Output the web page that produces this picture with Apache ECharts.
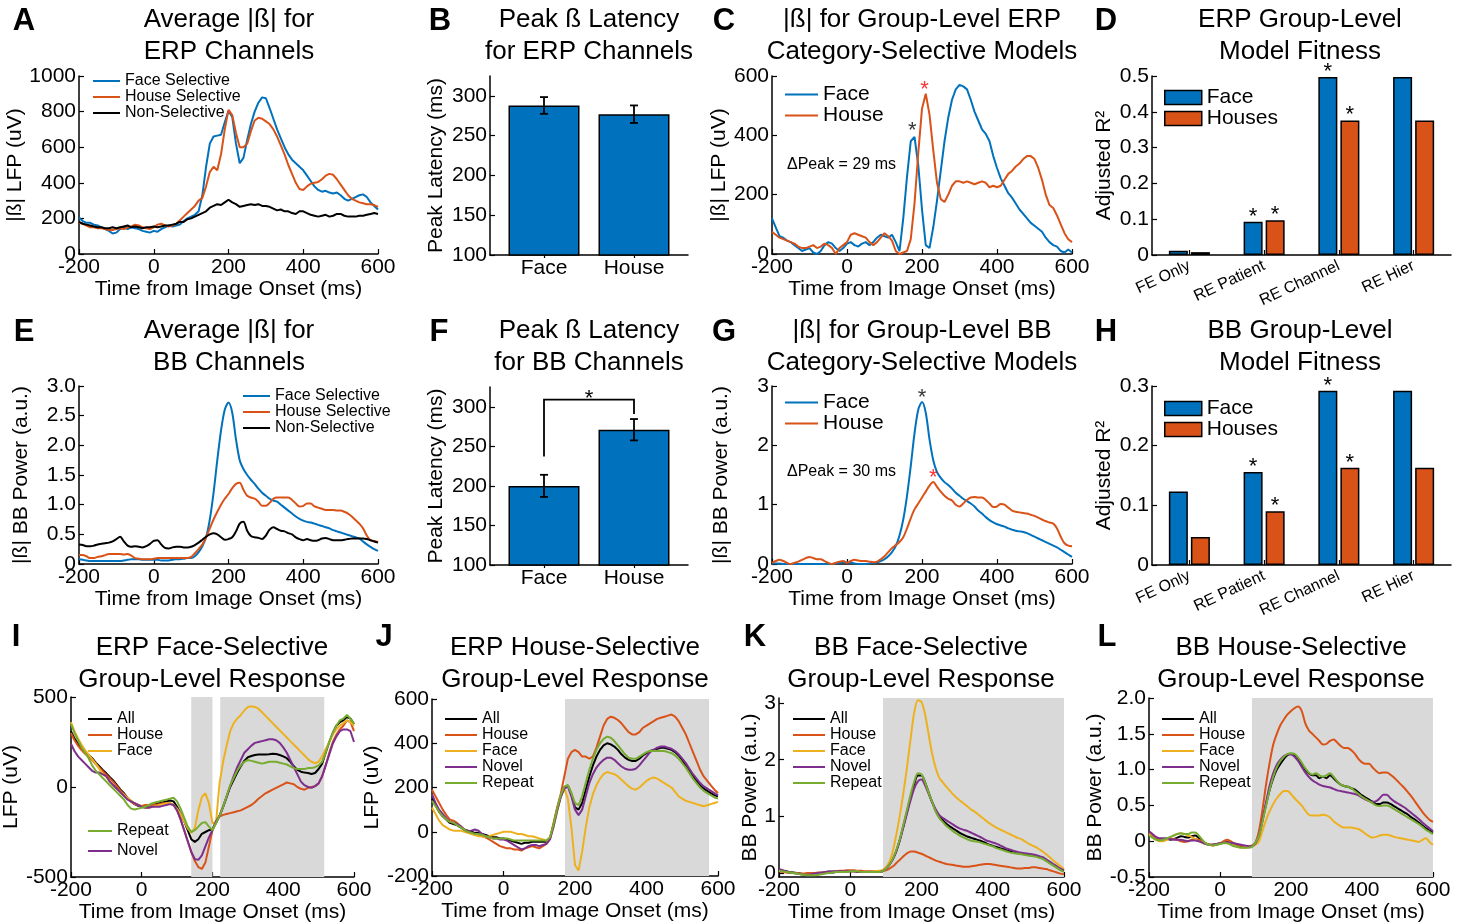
<!DOCTYPE html>
<html>
<head>
<meta charset="utf-8">
<title>Category-selective group-level responses</title>
<script src="https://cdn.jsdelivr.net/npm/echarts@6/dist/echarts.min.js"></script>
<style>
  html, body { margin: 0; padding: 0; background: #fff; }
  #chart { width: 1465px; height: 924px; }
</style>
</head>
<body>
<div id="chart"></div>
<script>
const FONT = 'Liberation Sans, Arial, sans-serif'
const BLUE = '#0072BD', ORANGE = '#D95319', YELLOW = '#EDB120', PURPLE = '#7E2F8E', GREEN = '#77AC30'

// time from image onset (ms), shared by every line panel
const T = [
  -200, -190, -180, -170, -160, -150, -140, -130, -120, -110,
  -100, -90, -80, -70, -60, -50, -40, -30, -20, -10,
  0, 10, 20, 30, 40, 50, 60, 70, 80, 90,
  100, 110, 120, 130, 140, 150, 160, 170, 180, 190,
  200, 210, 220, 230, 240, 250, 260, 270, 280, 290,
  300, 310, 320, 330, 340, 350, 360, 370, 380, 390,
  400, 410, 420, 430, 440, 450, 460, 470, 480, 490,
  500, 510, 520, 530, 540, 550, 560, 570, 580, 590,
  600
]
const timeTicks = [-200, 0, 200, 400, 600]

// A: average |B| for ERP channels
const aFace = [
  205, 185, 175, 175, 165, 160, 150, 140, 130, 115,
  120, 140, 150, 140, 150, 145, 140, 130, 125, 120,
  130, 125, 140, 150, 160, 155, 160, 165, 185, 200,
  210, 220, 240, 330, 490, 620, 660, 665, 670, 740,
  805, 770, 620, 510, 540, 640, 730, 800, 850, 880,
  875, 820, 760, 700, 650, 600, 560, 530, 510, 490,
  470, 440, 410, 380, 360, 350, 355, 345, 340, 345,
  330, 310, 300, 310, 320, 330, 335, 320, 290, 270,
  250
]
const aHouse = [
  175, 170, 160, 150, 150, 145, 145, 140, 135, 135,
  140, 145, 140, 150, 155, 165, 160, 150, 145, 140,
  150, 165, 170, 160, 155, 160, 170, 190, 210, 230,
  250, 270, 300, 315, 380, 460, 490, 470, 560, 700,
  810, 780, 680, 600, 600, 620, 690, 750, 765, 760,
  745, 730, 700, 660, 610, 560, 500, 450, 400, 365,
  360, 380, 395, 400, 405, 420, 440, 450, 445, 420,
  390, 360, 330, 310, 300, 290, 285, 280, 280, 275,
  265
]
const aNon = [
  180, 170, 165, 160, 155, 150, 150, 145, 145, 150,
  145, 150, 155, 160, 150, 155, 150, 145, 150, 150,
  155, 150, 155, 160, 160, 165, 170, 180, 180, 195,
  200, 210, 220, 230, 240, 260, 270, 280, 275, 290,
  305, 290, 280, 265, 270, 275, 280, 275, 280, 270,
  270, 265, 255, 245, 250, 240, 240, 230, 225, 240,
  240, 230, 220, 215, 210, 215, 220, 210, 215, 225,
  225, 215, 210, 210, 210, 215, 215, 220, 225, 230,
  225
]
const aTicks = [0, 200, 400, 600, 800, 1000]

// B / F: peak latency bars
const latCats = ['Face', 'House']
const latX = [1, 2]
const latTicks = [100, 150, 200, 250, 300]
const bVals = [288, 277]
const bErr = [10.5, 11]
const fVals = [200, 271]
const fErr = [14, 13.5]
const fBracket = [1, 2, 237, 309, 291]

// C: group-level ERP models
const cFace = [
  120, 90, 60, 55, 45, 40, 30, 20, 10, 15,
  20, 5, 0, 10, 30, 40, 35, 20, 10, 20,
  35, 40, 30, 25, 35, 40, 30, 40, 55, 65,
  60, 55, 65, 40, 10, 120, 260, 380, 395, 300,
  150, 30, 20, 90, 180, 280, 380, 460, 520, 555,
  570, 565, 555, 520, 480, 450, 420, 405, 380, 330,
  290, 255, 230, 205, 190, 170, 150, 135, 120, 105,
  95, 85, 75, 55, 40, 30, 25, 10, 5, 15,
  5
]
const cHouse = [
  75, 65, 55, 50, 45, 40, 35, 25, 20, 20,
  25, 30, 20, 25, 35, 30, 20, 0, 20, 30,
  40, 65, 70, 65, 60, 55, 40, 30, 40, 55,
  70, 60, 45, 10, 0, 5, 10, 50, 170, 340,
  490, 540, 470, 350, 240, 185, 175, 200, 230, 245,
  245, 240, 245, 240, 235, 240, 245, 240, 225, 230,
  225, 230, 250, 270, 280, 295, 305, 320, 330, 330,
  320, 290, 250, 200, 165, 155, 130, 100, 70, 50,
  40
]
const cTicks = [0, 200, 400, 600]
const cFacePeak = [174, 400]
const cHousePeak = [207, 541]

// D / H: model fitness
const fitCats = ['FE Only', 'RE Patient', 'RE Channel', 'RE Hier']
const dFace = [0.012, 0.093, 0.497, 0.497]
const dHouse = [0.008, 0.097, 0.376, 0.376]
const dTicks = [0, 0.1, 0.2, 0.3, 0.4, 0.5]
const hFace = [0.123, 0.156, 0.292, 0.292]
const hHouse = [0.047, 0.09, 0.163, 0.163]
const hTicks = [0, 0.1, 0.2, 0.3]
const fitStarFace = [0, 1, 1, 0]
const fitStarHouse = [0, 1, 1, 0]

// E: average |B| for BB channels
const eFace = [
  0.08, 0.07, 0.06, 0.05, 0.05, 0.05, 0.05, 0.05, 0.05, 0.05,
  0.05, 0.05, 0.06, 0.07, 0.08, 0.08, 0.08, 0.07, 0.07, 0.07,
  0.07, 0.07, 0.06, 0.06, 0.06, 0.07, 0.08, 0.08, 0.09, 0.1,
  0.1, 0.13, 0.2, 0.3, 0.45, 0.75, 1.2, 1.75, 2.25, 2.6,
  2.72, 2.55, 2.1, 1.75, 1.6, 1.5, 1.42, 1.35, 1.27, 1.2,
  1.15, 1.1, 1.07, 1.05, 1.0, 0.95, 0.9, 0.85, 0.8, 0.76,
  0.73, 0.71, 0.7, 0.68, 0.66, 0.64, 0.62, 0.6, 0.57, 0.55,
  0.53, 0.51, 0.49, 0.47, 0.45, 0.43, 0.38, 0.33, 0.29, 0.25,
  0.22
]
const eHouse = [
  0.15, 0.15, 0.13, 0.1, 0.1, 0.12, 0.13, 0.15, 0.17, 0.17,
  0.17, 0.17, 0.16, 0.17, 0.14, 0.1, 0.09, 0.08, 0.08, 0.08,
  0.09, 0.1, 0.1, 0.1, 0.1, 0.1, 0.1, 0.1, 0.1, 0.1,
  0.12, 0.18, 0.25, 0.33, 0.45, 0.6, 0.75, 0.88, 1.0, 1.1,
  1.18, 1.28, 1.35, 1.37, 1.25, 1.15, 1.12, 1.1, 1.05, 0.98,
  0.98, 1.03, 1.1, 1.12, 1.12, 1.12, 1.12, 1.08, 1.02, 0.97,
  0.98, 1.02, 1.02, 0.97, 0.95, 0.93, 0.91, 0.91, 0.91, 0.9,
  0.9, 0.88, 0.85, 0.8, 0.74, 0.68, 0.6, 0.48, 0.4, 0.39,
  0.37
]
const eNon = [
  0.33, 0.32, 0.3, 0.3, 0.31, 0.33, 0.34, 0.35, 0.36, 0.38,
  0.42, 0.46, 0.38, 0.31, 0.29, 0.3, 0.29, 0.28, 0.3, 0.34,
  0.39, 0.4, 0.33, 0.27, 0.26, 0.28, 0.29, 0.29, 0.28, 0.28,
  0.29, 0.32, 0.36, 0.41, 0.46, 0.5, 0.52, 0.5, 0.45, 0.41,
  0.42, 0.45, 0.55, 0.68, 0.71, 0.56, 0.47, 0.45, 0.44, 0.42,
  0.48, 0.58, 0.62, 0.59, 0.56, 0.55, 0.52, 0.5, 0.45, 0.42,
  0.4, 0.42, 0.4, 0.39, 0.4, 0.43, 0.44, 0.42, 0.4, 0.4,
  0.4, 0.41, 0.42, 0.43, 0.43, 0.43, 0.43, 0.42, 0.4, 0.38,
  0.36
]
const eTicks = [0, 0.5, 1, 1.5, 2, 2.5, 3]

// G: group-level BB models
const gFace = [
  0.01, 0.01, 0.01, 0, 0, 0, 0, 0, 0, 0,
  0, 0, 0, 0, 0, 0, 0, 0.01, 0.02, 0.03,
  0.03, 0.02, 0.01, 0, 0, 0, 0.01, 0.02, 0.03, 0.05,
  0.08, 0.13, 0.2, 0.3, 0.48, 0.75, 1.15, 1.65, 2.2, 2.6,
  2.73, 2.55, 2.1, 1.75, 1.55, 1.45, 1.38, 1.33, 1.27, 1.2,
  1.15, 1.1, 1.06, 1.02, 0.97, 0.9, 0.85, 0.79, 0.74, 0.7,
  0.67, 0.65, 0.63, 0.6, 0.58, 0.56, 0.55, 0.54, 0.52, 0.49,
  0.46, 0.43, 0.4, 0.37, 0.34, 0.31, 0.28, 0.24, 0.2, 0.16,
  0.12
]
const gHouse = [
  0.02, 0.05, 0.07, 0.05, 0.02, 0, 0.02, 0.04, 0.07, 0.1,
  0.12, 0.1, 0.08, 0.08, 0.05, 0.02, 0, 0.02, 0.04, 0.05,
  0.02, 0.05, 0.07, 0.06, 0.05, 0.05, 0.04, 0.03, 0.04, 0.08,
  0.13, 0.2, 0.27, 0.32, 0.37, 0.45, 0.6, 0.77, 0.92, 1.02,
  1.12, 1.22, 1.32, 1.38, 1.3, 1.22, 1.15, 1.1, 1.07, 1.0,
  0.97, 1.02, 1.08, 1.12, 1.13, 1.12, 1.12, 1.08, 1.02, 0.96,
  0.97, 1.01, 1.0, 0.95, 0.9, 0.88, 0.87, 0.86, 0.85, 0.83,
  0.81, 0.78, 0.75, 0.72, 0.7, 0.68, 0.6, 0.46, 0.35, 0.31,
  0.3
]
const gTicks = [0, 1, 2, 3]
const gFacePeak = [200, 2.73]
const gHousePeak = [230, 1.38]

// I: ERP face-selective group response
const iAll = [
  310, 270, 240, 215, 195, 178, 160, 135, 115, 95,
  76, 55, 35, 10, -15, -35, -60, -80, -95, -105,
  -110, -110, -105, -100, -95, -90, -85, -80, -75, -80,
  -110, -150, -190, -240, -290, -305, -290, -260, -250, -240,
  -235, -200, -160, -110, -55, 0, 40, 80, 115, 145,
  165, 172, 178, 180, 180, 180, 182, 185, 183, 178,
  170, 160, 140, 115, 95, 85, 80, 78, 72, 78,
  100, 130, 190, 250, 300, 340, 360, 370, 390, 380,
  350
]
const iHouse = [
  300, 260, 230, 205, 185, 168, 150, 128, 108, 88,
  68, 48, 28, 5, -20, -40, -62, -82, -95, -100,
  -105, -100, -100, -100, -100, -95, -90, -90, -90, -100,
  -130, -180, -240, -300, -360, -410, -445, -455, -420, -330,
  -240, -190, -165, -155, -150, -145, -140, -135, -130, -120,
  -110, -100, -85, -65, -50, -35, -25, -15, -5, 5,
  15, 25, 20, 15, 0, -10, -15, -5, 0, 5,
  20, 60, 120, 190, 250, 290, 320, 340, 370, 360,
  310
]
const iFace = [
  360, 310, 270, 235, 205, 180, 155, 130, 100, 75,
  55, 30, 10, -10, -30, -45, -60, -75, -90, -100,
  -110, -115, -115, -110, -105, -100, -95, -90, -90, -100,
  -120, -150, -190, -230, -255, -230, -130, -55, -35, -90,
  -200, -200, 20, 140, 230, 310, 355, 380, 400, 425,
  445, 448, 445, 435, 415, 395, 375, 355, 335, 315,
  295, 275, 255, 235, 215, 195, 175, 155, 140, 132,
  140, 170, 210, 250, 290, 320, 340, 355, 370, 360,
  340
]
const iNovel = [
  240, 200, 170, 150, 130, 110, 90, 80, 80, 70,
  60, 30, 10, -10, -30, -50, -70, -80, -90, -100,
  -110, -115, -115, -110, -110, -110, -105, -100, -95, -100,
  -130, -180, -240, -300, -360, -400, -405, -380, -330, -280,
  -240, -190, -160, -110, -55, 5, 60, 110, 150, 190,
  210, 230, 245, 250, 255, 260, 265, 265, 260, 245,
  220, 190, 150, 110, 70, 30, 10, 0, -5, 5,
  20, 60, 120, 180, 240, 280, 310, 320, 320, 310,
  250
]
const iRepeat = [
  350, 300, 260, 220, 190, 160, 120, 90, 70, 50,
  30, 10, -10, -30, -50, -70, -100, -120, -125, -120,
  -115, -110, -100, -90, -85, -80, -75, -70, -65, -60,
  -80, -120, -170, -220, -250, -240, -220, -200, -195, -220,
  -240, -200, -160, -110, -50, 10, 50, 90, 120, 140,
  150, 145, 140, 135, 130, 135, 140, 140, 140, 135,
  130, 125, 115, 105, 100, 100, 100, 105, 105, 110,
  120, 140, 190, 250, 300, 340, 370, 380, 400, 380,
  350
]
const iShade = [[140, 200], [222, 516]]
const iTicks = [-500, 0, 500]

// J: ERP house-selective group response
const jAll = [
  150, 120, 90, 70, 55, 40, 35, 30, 20, 10,
  5, 0, -5, -5, -10, -15, -20, -25, -25, -30,
  -30, -35, -40, -45, -50, -55, -50, -50, -45, -45,
  -45, -45, -45, -30, 30, 100, 160, 200, 210, 170,
  110, 100, 130, 190, 250, 300, 340, 370, 390, 400,
  395, 385, 370, 350, 335, 325, 320, 320, 330, 345,
  355, 365, 370, 375, 380, 380, 375, 370, 360, 345,
  325, 300, 275, 250, 230, 210, 195, 185, 175, 165,
  160
]
const jHouse = [
  190, 160, 130, 100, 75, 55, 50, 40, 25, 10,
  0, -5, -10, -15, -20, -25, -35, -45, -55, -65,
  -70, -75, -75, -80, -80, -85, -75, -70, -65, -70,
  -75, -65, -55, -30, 40, 110, 170, 250, 330, 360,
  370, 360, 340, 340, 330, 340, 380, 430, 480, 510,
  520, 515, 505, 490, 470, 450, 440, 440, 450, 470,
  480, 490, 500, 510, 515, 520, 525, 530, 520, 500,
  470, 440, 400, 360, 320, 280, 250, 230, 210, 190,
  175
]
const jFace = [
  110, 80, 50, 30, 20, 10, 5, 5, 5, 0,
  -5, -10, -15, -20, -20, -25, -20, -15, -10, -5,
  0, 0, 0, -5, -10, -10, -15, -20, -20, -25,
  -30, -35, -40, -30, 20, 90, 160, 195, 150, 20,
  -150, -175, -90, 20, 110, 170, 210, 240, 260, 270,
  265, 260, 250, 235, 220, 205, 195, 190, 200, 215,
  230, 240, 245, 240, 230, 220, 210, 200, 180, 160,
  150, 140, 135, 130, 125, 120, 115, 120, 125, 130,
  135
]
const jNovel = [
  170, 130, 100, 80, 60, 45, 40, 35, 25, 10,
  0, 5, 10, 5, -10, -20, -25, -30, -30, -35,
  -35, -40, -50, -60, -70, -80, -75, -65, -60, -60,
  -65, -60, -55, -35, 25, 95, 155, 195, 205, 160,
  100, 75, 100, 160, 220, 260, 290, 310, 325, 335,
  335, 325, 310, 295, 285, 280, 280, 285, 300, 320,
  340, 360, 370, 380, 385, 385, 380, 375, 365, 350,
  330, 310, 285, 260, 240, 220, 205, 195, 185, 175,
  165
]
const jRepeat = [
  140, 115, 90, 70, 55, 45, 40, 30, 20, 10,
  0, -5, -10, -10, -15, -20, -25, -30, -30, -30,
  -30, -30, -35, -40, -40, -40, -40, -40, -40, -40,
  -40, -40, -40, -25, 35, 105, 165, 205, 210, 175,
  130, 120, 160, 220, 280, 330, 370, 400, 420, 430,
  425, 410, 390, 370, 350, 335, 330, 330, 340, 350,
  360, 365, 365, 365, 365, 365, 360, 355, 345, 330,
  310, 290, 265, 240, 220, 200, 185, 175, 165, 155,
  150
]
const jShade = [[172, 575]]
const jTicks = [-200, 0, 200, 400, 600]

// K: BB face-selective group response
const kAll = [
  0.05, 0.04, 0.03, 0.02, 0.01, 0, -0.01, -0.02, -0.03, -0.03,
  -0.03, -0.02, -0.01, 0, 0.01, 0.01, 0.02, 0.02, 0.02, 0.03,
  0.03, 0.03, 0.02, 0.02, 0.02, 0.02, 0.02, 0.02, 0.02, 0.03,
  0.08, 0.15, 0.25, 0.4, 0.6, 0.85, 1.1, 1.35, 1.58, 1.72,
  1.72, 1.6, 1.42, 1.25, 1.1, 1.0, 0.93, 0.87, 0.82, 0.78,
  0.74, 0.7, 0.67, 0.64, 0.62, 0.6, 0.58, 0.56, 0.53, 0.5,
  0.48, 0.46, 0.44, 0.42, 0.4, 0.38, 0.36, 0.35, 0.34, 0.33,
  0.32, 0.31, 0.3, 0.28, 0.26, 0.22, 0.18, 0.14, 0.1, 0.06,
  0.03
]
const kHouse = [
  0.03, 0.02, 0.01, 0, 0, 0, -0.01, -0.01, 0, 0,
  0, 0.01, 0.01, 0.02, 0.02, 0.02, 0.03, 0.04, 0.04, 0.05,
  0.05, 0.05, 0.04, 0.04, 0.03, 0.03, 0.03, 0.03, 0.03, 0.04,
  0.05, 0.08, 0.12, 0.18, 0.24, 0.3, 0.35, 0.38, 0.38, 0.36,
  0.34, 0.31, 0.28, 0.25, 0.22, 0.2, 0.18, 0.16, 0.15, 0.14,
  0.13, 0.12, 0.11, 0.11, 0.12, 0.13, 0.14, 0.15, 0.16, 0.16,
  0.15, 0.14, 0.13, 0.12, 0.11, 0.1, 0.09, 0.08, 0.08, 0.09,
  0.09, 0.1, 0.1, 0.09, 0.08, 0.07, 0.05, 0.03, 0.01, -0.01,
  -0.02
]
const kFace = [
  0.04, 0.03, 0.02, 0.01, 0, -0.01, -0.02, -0.03, -0.03, -0.03,
  -0.02, -0.01, 0, 0.01, 0.01, 0.02, 0.02, 0.02, 0.03, 0.03,
  0.03, 0.03, 0.03, 0.02, 0.02, 0.02, 0.02, 0.03, 0.04, 0.05,
  0.1, 0.2, 0.4, 0.7, 1.05, 1.45, 1.9, 2.4, 2.85, 3.05,
  3.02, 2.8, 2.45, 2.1, 1.85, 1.68, 1.6, 1.52, 1.45, 1.38,
  1.32, 1.27, 1.22, 1.17, 1.12, 1.08, 1.03, 0.98, 0.93, 0.88,
  0.84, 0.8, 0.77, 0.74, 0.71, 0.68, 0.65, 0.62, 0.6, 0.56,
  0.52, 0.49, 0.46, 0.42, 0.38, 0.33, 0.28, 0.22, 0.17, 0.12,
  0.07
]
const kNovel = [
  0.07, 0.05, 0.03, 0.01, 0, -0.01, -0.02, -0.03, -0.03, -0.02,
  -0.01, 0, 0.01, 0.02, 0.03, 0.03, 0.03, 0.03, 0.03, 0.03,
  0.03, 0.03, 0.02, 0.02, 0.02, 0.02, 0.02, 0.02, 0.02, 0.03,
  0.08, 0.15, 0.25, 0.4, 0.6, 0.83, 1.07, 1.3, 1.5, 1.62,
  1.65, 1.55, 1.4, 1.25, 1.12, 1.02, 0.97, 0.93, 0.89, 0.85,
  0.81, 0.78, 0.76, 0.74, 0.71, 0.68, 0.65, 0.62, 0.58, 0.56,
  0.54, 0.52, 0.49, 0.46, 0.43, 0.41, 0.39, 0.37, 0.36, 0.35,
  0.34, 0.33, 0.32, 0.3, 0.28, 0.24, 0.2, 0.16, 0.12, 0.08,
  0.05
]
const kRepeat = [
  0.04, 0.03, 0.02, 0.01, 0, -0.01, -0.02, -0.03, -0.04, -0.04,
  -0.04, -0.03, -0.02, -0.01, 0, 0.01, 0.02, 0.02, 0.02, 0.02,
  0.03, 0.03, 0.03, 0.02, 0.02, 0.02, 0.02, 0.02, 0.02, 0.03,
  0.08, 0.15, 0.26, 0.42, 0.62, 0.88, 1.14, 1.4, 1.62, 1.76,
  1.74, 1.6, 1.42, 1.25, 1.08, 0.97, 0.9, 0.83, 0.78, 0.73,
  0.69, 0.65, 0.62, 0.59, 0.57, 0.56, 0.55, 0.53, 0.51, 0.49,
  0.47, 0.44, 0.42, 0.4, 0.38, 0.36, 0.35, 0.34, 0.33, 0.32,
  0.31, 0.3, 0.29, 0.27, 0.25, 0.21, 0.17, 0.13, 0.09, 0.05,
  0.02
]
const kShade = [[92, 600]]
const kTicks = [0, 1, 2, 3]

// L: BB house-selective group response
const lAll = [
  0.1, 0.06, 0.03, 0.02, 0.03, 0.03, 0.02, 0.03, 0.05, 0.07,
  0.06, 0.05, 0.07, 0.08, 0.05, 0, -0.03, -0.05, -0.05, -0.04,
  -0.03, -0.02, -0.01, -0.03, -0.05, -0.06, -0.07, -0.08, -0.08, -0.07,
  -0.02, 0.1, 0.3, 0.52, 0.72, 0.88, 1.0, 1.08, 1.15, 1.2,
  1.22, 1.2, 1.15, 1.08, 1.0, 0.95, 0.92, 0.92, 0.88, 0.9,
  0.88, 0.92, 0.88, 0.83, 0.79, 0.77, 0.76, 0.74, 0.72, 0.68,
  0.64, 0.61, 0.58, 0.55, 0.52, 0.52, 0.54, 0.54, 0.52, 0.49,
  0.46, 0.43, 0.4, 0.37, 0.33, 0.3, 0.26, 0.22, 0.18, 0.15,
  0.12
]
const lHouse = [
  0.12, 0.08, 0.04, 0.02, 0.02, 0.03, 0.03, 0.03, 0.02, 0,
  -0.01, 0, 0.02, 0.03, 0.02, 0, -0.03, -0.05, -0.06, -0.05,
  -0.03, 0, 0.02, 0, -0.03, -0.05, -0.06, -0.07, -0.07, -0.06,
  -0.02, 0.15, 0.45, 0.8, 1.1, 1.35, 1.5, 1.62, 1.7, 1.77,
  1.82, 1.86, 1.88, 1.82, 1.65, 1.55, 1.5, 1.45, 1.4, 1.35,
  1.36, 1.4, 1.42, 1.38, 1.33, 1.3, 1.3, 1.27, 1.22, 1.15,
  1.1, 1.08, 1.08, 1.03, 0.98, 0.95, 0.96, 0.96, 0.93, 0.89,
  0.84, 0.79, 0.74, 0.68, 0.62, 0.55, 0.48, 0.41, 0.35, 0.3,
  0.27
]
const lFace = [
  0.1, 0.05, 0.02, 0, 0, 0.02, 0.05, 0.08, 0.1, 0.11,
  0.1, 0.08, 0.06, 0.03, 0, -0.02, -0.04, -0.05, -0.05, -0.04,
  -0.03, -0.02, -0.02, -0.04, -0.06, -0.08, -0.09, -0.09, -0.08, -0.07,
  -0.05, 0, 0.15, 0.3, 0.42, 0.52, 0.6, 0.66, 0.7, 0.7,
  0.66, 0.6, 0.55, 0.5, 0.43, 0.37, 0.36, 0.36, 0.36, 0.37,
  0.36, 0.33, 0.28, 0.24, 0.21, 0.19, 0.19, 0.19, 0.18, 0.17,
  0.14, 0.1, 0.07, 0.05, 0.06, 0.08, 0.09, 0.09, 0.08, 0.06,
  0.05, 0.04, 0.03, 0.02, 0.01, 0, -0.01, 0.02, 0.04, -0.01,
  -0.05
]
const lNovel = [
  0.14, 0.1, 0.06, 0.04, 0.04, 0.04, 0.03, 0.02, 0.02, 0.02,
  0.01, 0, 0.01, 0.01, 0, -0.02, -0.04, -0.05, -0.05, -0.04,
  -0.03, -0.02, -0.02, -0.02, -0.03, -0.04, -0.05, -0.06, -0.07, -0.07,
  -0.03, 0.08, 0.3, 0.55, 0.78, 0.95, 1.07, 1.14, 1.19, 1.21,
  1.21, 1.18, 1.12, 1.04, 0.96, 0.9, 0.85, 0.82, 0.79, 0.77,
  0.76, 0.75, 0.73, 0.71, 0.7, 0.69, 0.68, 0.67, 0.66, 0.64,
  0.61, 0.58, 0.56, 0.55, 0.56, 0.6, 0.65, 0.65, 0.6, 0.56,
  0.53, 0.5, 0.47, 0.43, 0.39, 0.35, 0.31, 0.26, 0.22, 0.18,
  0.14
]
const lRepeat = [
  0.08, 0.05, 0.02, 0.01, 0.02, 0.04, 0.06, 0.08, 0.1, 0.11,
  0.1, 0.1, 0.12, 0.12, 0.08, 0.02, -0.03, -0.05, -0.06, -0.05,
  -0.04, -0.03, -0.03, -0.05, -0.07, -0.08, -0.09, -0.09, -0.09, -0.08,
  -0.02, 0.08, 0.28, 0.5, 0.72, 0.9, 1.03, 1.12, 1.18, 1.22,
  1.23, 1.22, 1.17, 1.1, 1.02, 0.96, 0.93, 0.95, 0.92, 0.9,
  0.92, 0.95, 0.9, 0.84, 0.79, 0.77, 0.76, 0.74, 0.7, 0.66,
  0.62, 0.59, 0.56, 0.53, 0.5, 0.49, 0.5, 0.5, 0.48, 0.45,
  0.42, 0.39, 0.36, 0.33, 0.3, 0.27, 0.24, 0.2, 0.16, 0.13,
  0.1
]
const lShade = [[90, 600]]
const lTicks = [-0.5, 0, 0.5, 1, 1.5, 2]

const plainNumber = v => String(v)
const oneDecimal = v => (v === 0 ? '0' : v.toFixed(1))

// ---------- axes ----------

function baseAxis(gi) {
  return {
    gridIndex: gi,
    axisLine: { show: true, onZero: false, lineStyle: { color: '#000', width: 1.5 } },
    axisTick: { show: true, inside: true, length: 5, lineStyle: { color: '#000', width: 1.2 } },
    axisLabel: { color: '#000', fontSize: 21, fontFamily: FONT, margin: 3, formatter: plainNumber },
    splitLine: { show: false },
    nameLocation: 'middle',
    nameTextStyle: { color: '#000', fontSize: 21, fontFamily: FONT }
  }
}

function timeAxis(gi, gap) {
  let ax = baseAxis(gi)
  ax.type = 'value'
  ax.min = -200
  ax.max = 600
  ax.name = 'Time from Image Onset (ms)'
  ax.nameGap = gap
  ax.axisLabel.customValues = timeTicks
  ax.axisTick.customValues = timeTicks
  return ax
}

function valueAxis(gi, name, gap, min, max, ticks, fmt) {
  let ax = baseAxis(gi)
  ax.type = 'value'
  ax.min = min
  ax.max = max
  ax.name = name
  ax.nameGap = gap
  ax.axisLabel.customValues = ticks
  ax.axisTick.customValues = ticks
  if (fmt) ax.axisLabel.formatter = fmt
  return ax
}

function latencyXAxis(gi) {
  let ax = baseAxis(gi)
  ax.type = 'value'
  ax.min = 0.4
  ax.max = 2.6
  ax.axisLabel.customValues = latX
  ax.axisTick.customValues = latX
  ax.axisTick.inside = false
  ax.axisTick.length = 3
  ax.axisLabel.formatter = v => latCats[latX.indexOf(v)]
  return ax
}

function fitXAxis(gi) {
  let ax = baseAxis(gi)
  ax.type = 'category'
  ax.data = fitCats
  ax.axisTick.alignWithLabel = true
  ax.axisLabel.formatter = null
  ax.axisLabel.fontSize = 16
  ax.axisLabel.rotate = 25
  ax.axisLabel.interval = 0
  ax.axisLabel.margin = 10
  return ax
}

// ---------- series ----------

function line(gi, name, vals, color, smooth) {
  return {
    type: 'line', name, xAxisIndex: gi, yAxisIndex: gi,
    data: T.map((t, i) => [t, vals[i]]),
    symbol: 'none', smooth: smooth ? 0.3 : false,
    lineStyle: { color, width: 2 }, itemStyle: { color },
    z: 3, silent: true
  }
}

function star(gi, pt, color) {
  return {
    type: 'scatter', xAxisIndex: gi, yAxisIndex: gi, data: [pt],
    symbolSize: 0.1, itemStyle: { color: 'rgba(0,0,0,0)' }, z: 5, silent: true,
    label: { show: true, position: 'top', distance: -7, formatter: '*', color, fontSize: 22, fontFamily: FONT }
  }
}

function shade(gi, spans) {
  return {
    type: 'custom', xAxisIndex: gi, yAxisIndex: gi, data: spans,
    encode: { x: [0, 1] }, z: 1, silent: true,
    renderItem: (params, api) => {
      let cs = params.coordSys
      let a = api.coord([api.value(0), 0])
      let b = api.coord([api.value(1), 0])
      return { type: 'rect', shape: { x: a[0], y: cs.y, width: b[0] - a[0], height: cs.height }, style: { fill: '#d9d9d9' } }
    }
  }
}

function latencyBars(gi, vals) {
  return {
    type: 'bar', xAxisIndex: gi, yAxisIndex: gi,
    data: latX.map((x, i) => [x, vals[i]]),
    barWidth: 71, itemStyle: { color: BLUE, borderColor: '#000', borderWidth: 1.5 },
    z: 2, silent: true
  }
}

function errBars(gi, vals, errs) {
  return {
    type: 'custom', xAxisIndex: gi, yAxisIndex: gi, z: 4, silent: true,
    data: latX.map((x, i) => [x, vals[i] - errs[i], vals[i] + errs[i]]),
    encode: { x: 0, y: [1, 2] },
    renderItem: (params, api) => {
      let lo = api.coord([api.value(0), api.value(1)])
      let hi = api.coord([api.value(0), api.value(2)])
      let w = 4
      let st = { stroke: '#000', lineWidth: 1.8 }
      return {
        type: 'group', children: [
          { type: 'line', shape: { x1: lo[0], y1: lo[1], x2: hi[0], y2: hi[1] }, style: st },
          { type: 'line', shape: { x1: lo[0] - w, y1: lo[1], x2: lo[0] + w, y2: lo[1] }, style: st },
          { type: 'line', shape: { x1: hi[0] - w, y1: hi[1], x2: hi[0] + w, y2: hi[1] }, style: st }
        ]
      }
    }
  }
}

function bracket(gi, b) {
  return {
    type: 'custom', xAxisIndex: gi, yAxisIndex: gi, z: 4, silent: true,
    data: [b], encode: { x: [0, 1], y: [2, 3, 4] },
    renderItem: (params, api) => {
      let p0 = api.coord([api.value(0), api.value(2)])
      let p1 = api.coord([api.value(0), api.value(3)])
      let p2 = api.coord([api.value(1), api.value(3)])
      let p3 = api.coord([api.value(1), api.value(4)])
      return {
        type: 'group', children: [
          { type: 'polyline', shape: { points: [p0, p1, p2, p3] }, style: { stroke: '#000', lineWidth: 1.8, fill: null } },
          { type: 'text', x: (p1[0] + p2[0]) / 2, y: p1[1] - 1,
            style: { text: '*', fill: '#000', fontSize: 22, fontFamily: FONT, align: 'center', verticalAlign: 'middle' } }
        ]
      }
    }
  }
}

function fitBars(gi, name, vals, stars, color) {
  return {
    type: 'bar', name, xAxisIndex: gi, yAxisIndex: gi, data: vals,
    barWidth: 19, barGap: '16%',
    itemStyle: { color, borderColor: '#000', borderWidth: 1.5 },
    label: {
      show: true, position: 'top', distance: -6, color: '#000', fontSize: 22, fontFamily: FONT,
      formatter: p => (stars[p.dataIndex] ? '*' : '')
    },
    z: 2, silent: true
  }
}

// line legends use a 2px bar as the icon so no marker shows in the middle
function legend(names, left, top, size, rowH, iconW, extra) {
  return Object.assign({
    data: names, left, top, orient: 'vertical', padding: 0, itemGap: 0,
    icon: 'rect', itemWidth: iconW, itemHeight: 2, selectedMode: false,
    formatter: n => n.split(':')[1],
    textStyle: { color: '#000', fontFamily: FONT, fontSize: size, lineHeight: rowH }
  }, extra || {})
}

const fiveNames = p => ['All', 'House', 'Face', 'Novel', 'Repeat'].map(n => p + ':' + n)
function fiveLines(gi, p, arrs, smooth) {
  const cols = ['#000', ORANGE, YELLOW, PURPLE, GREEN]
  return fiveNames(p).map((n, i) => line(gi, n, arrs[i], cols[i], smooth))
}

// ---------- layout ----------

const grids = [
  { left: 79, top: 76, width: 299, height: 178 },    // A
  { left: 490, top: 76, width: 198, height: 179 },   // B
  { left: 772, top: 76, width: 300, height: 178 },   // C
  { left: 1152, top: 76, width: 299, height: 179 },  // D
  { left: 79, top: 386, width: 299, height: 178 },   // E
  { left: 490, top: 387, width: 198, height: 178 },  // F
  { left: 772, top: 386, width: 300, height: 178 },  // G
  { left: 1152, top: 386, width: 299, height: 179 }, // H
  { left: 70, top: 697, width: 284, height: 180 },   // I
  { left: 432, top: 699, width: 286, height: 177 },  // J
  { left: 779, top: 698, width: 285, height: 179 },  // K
  { left: 1149, top: 698, width: 284, height: 179 }  // L
]

const xAxis = [
  timeAxis(0, 17), latencyXAxis(1), timeAxis(2, 17), fitXAxis(3),
  timeAxis(4, 19), latencyXAxis(5), timeAxis(6, 19), fitXAxis(7),
  timeAxis(8, 22), timeAxis(9, 22), timeAxis(10, 22), timeAxis(11, 22)
]

const yAxis = [
  valueAxis(0, '|ß| LFP (uV)', 47, 0, 1000, aTicks),
  valueAxis(1, 'Peak Latency (ms)', 43, 100, 325, latTicks),
  valueAxis(2, '|ß| LFP (uV)', 40, 0, 600, cTicks),
  valueAxis(3, 'Adjusted R²', 37, 0, 0.5, dTicks),
  valueAxis(4, '|ß| BB Power (a.u.)', 47, 0, 3, eTicks, oneDecimal),
  valueAxis(5, 'Peak Latency (ms)', 43, 100, 325, latTicks),
  valueAxis(6, '|ß| BB Power (a.u.)', 40, 0, 3, gTicks),
  valueAxis(7, 'Adjusted R²', 37, 0, 0.3, hTicks),
  valueAxis(8, 'LFP (uV)', 38, -500, 500, iTicks),
  valueAxis(9, 'LFP (uV)', 40, -200, 600, jTicks),
  valueAxis(10, 'BB Power (a.u.)', 17, -0.07, 3.09, kTicks),
  valueAxis(11, 'BB Power (a.u.)', 37, -0.5, 2, lTicks, oneDecimal)
]

const series = [
  line(0, 'A:Face Selective', aFace, BLUE),
  line(0, 'A:House Selective', aHouse, ORANGE),
  line(0, 'A:Non-Selective', aNon, '#000'),

  latencyBars(1, bVals),
  errBars(1, bVals, bErr),

  line(2, 'C:Face', cFace, BLUE),
  line(2, 'C:House', cHouse, ORANGE),
  star(2, cFacePeak, '#000'),
  star(2, cHousePeak, '#ff0000'),

  fitBars(3, 'D:Face', dFace, fitStarFace, BLUE),
  fitBars(3, 'D:Houses', dHouse, fitStarHouse, ORANGE),

  line(4, 'E:Face Selective', eFace, BLUE, true),
  line(4, 'E:House Selective', eHouse, ORANGE, true),
  line(4, 'E:Non-Selective', eNon, '#000', true),

  latencyBars(5, fVals),
  errBars(5, fVals, fErr),
  bracket(5, fBracket),

  line(6, 'G:Face', gFace, BLUE, true),
  line(6, 'G:House', gHouse, ORANGE, true),
  star(6, gFacePeak, '#000'),
  star(6, gHousePeak, '#ff0000'),

  fitBars(7, 'H:Face', hFace, fitStarFace, BLUE),
  fitBars(7, 'H:Houses', hHouse, fitStarHouse, ORANGE),

  shade(8, iShade),
  ...fiveLines(8, 'I', [iAll, iHouse, iFace, iNovel, iRepeat]),
  shade(9, jShade),
  ...fiveLines(9, 'J', [jAll, jHouse, jFace, jNovel, jRepeat]),
  shade(10, kShade),
  ...fiveLines(10, 'K', [kAll, kHouse, kFace, kNovel, kRepeat], true),
  shade(11, lShade),
  ...fiveLines(11, 'L', [lAll, lHouse, lFace, lNovel, lRepeat], true)
]

const boxLegend = { itemHeight: 14, itemStyle: { borderColor: '#000', borderWidth: 1.5 } }

const legends = [
  legend(['A:Face Selective', 'A:House Selective', 'A:Non-Selective'], 93, 73, 16, 16, 27),
  legend(['C:Face', 'C:House'], 785, 84, 21, 18, 33),
  legend(['D:Face', 'D:Houses'], 1164, 87, 21, 20, 37, boxLegend),
  legend(['E:Face Selective', 'E:House Selective', 'E:Non-Selective'], 243, 388, 16, 15, 27),
  legend(['G:Face', 'G:House'], 785, 392, 21, 18, 33),
  legend(['H:Face', 'H:Houses'], 1164, 398, 21, 20, 37, boxLegend),
  legend(['I:All', 'I:House', 'I:Face'], 88, 711, 16, 14.5, 24),
  legend(['I:Repeat', 'I:Novel'], 88, 821, 16, 20, 24),
  legend(fiveNames('J'), 445, 711, 16, 14.5, 32),
  legend(fiveNames('K'), 793, 711, 16, 14.5, 32),
  legend(fiveNames('L'), 1162, 711, 16, 14.5, 32)
]

// panel titles and letters
const titleText = (text, x, y) => ({
  type: 'text', x, y, silent: true,
  style: { text, fill: '#000', fontSize: 26, fontFamily: FONT, lineHeight: 32, align: 'center', verticalAlign: 'top' }
})
const letterText = (text, x, y) => ({
  type: 'text', x, y, silent: true,
  style: { text, fill: '#000', fontSize: 31, fontWeight: 'bold', fontFamily: FONT, align: 'center', verticalAlign: 'middle' }
})
const noteText = (text, x, y) => ({
  type: 'text', x, y, silent: true,
  style: { text, fill: '#000', fontSize: 16, fontFamily: FONT, align: 'left', verticalAlign: 'middle' }
})

const graphic = [
  titleText('Average |ß| for\nERP Channels', 229, 4),
  titleText('Peak ß Latency\nfor ERP Channels', 589, 4),
  titleText('|ß| for Group-Level ERP\nCategory-Selective Models', 922, 4),
  titleText('ERP Group-Level\nModel Fitness', 1300, 4),
  titleText('Average |ß| for\nBB Channels', 229, 315),
  titleText('Peak ß Latency\nfor BB Channels', 589, 315),
  titleText('|ß| for Group-Level BB\nCategory-Selective Models', 922, 315),
  titleText('BB Group-Level\nModel Fitness', 1300, 315),
  titleText('ERP Face-Selective\nGroup-Level Response', 212, 632),
  titleText('ERP House-Selective\nGroup-Level Response', 575, 632),
  titleText('BB Face-Selective\nGroup-Level Response', 921, 632),
  titleText('BB House-Selective\nGroup-Level Response', 1291, 632),
  letterText('A', 24, 21), letterText('B', 440, 21), letterText('C', 724, 21), letterText('D', 1106, 21),
  letterText('E', 24, 332), letterText('F', 439, 332), letterText('G', 724, 332), letterText('H', 1106, 332),
  letterText('I', 16, 637), letterText('J', 384, 637), letterText('K', 755, 637), letterText('L', 1107, 637),
  noteText('ΔPeak = 29 ms', 787, 165),
  noteText('ΔPeak = 30 ms', 787, 472)
]

const chart = echarts.init(document.getElementById('chart'))
chart.setOption({
  animation: false,
  backgroundColor: '#fff',
  textStyle: { fontFamily: FONT },
  grid: grids,
  xAxis,
  yAxis,
  legend: legends,
  graphic,
  series
})
</script>
</body>
</html>
